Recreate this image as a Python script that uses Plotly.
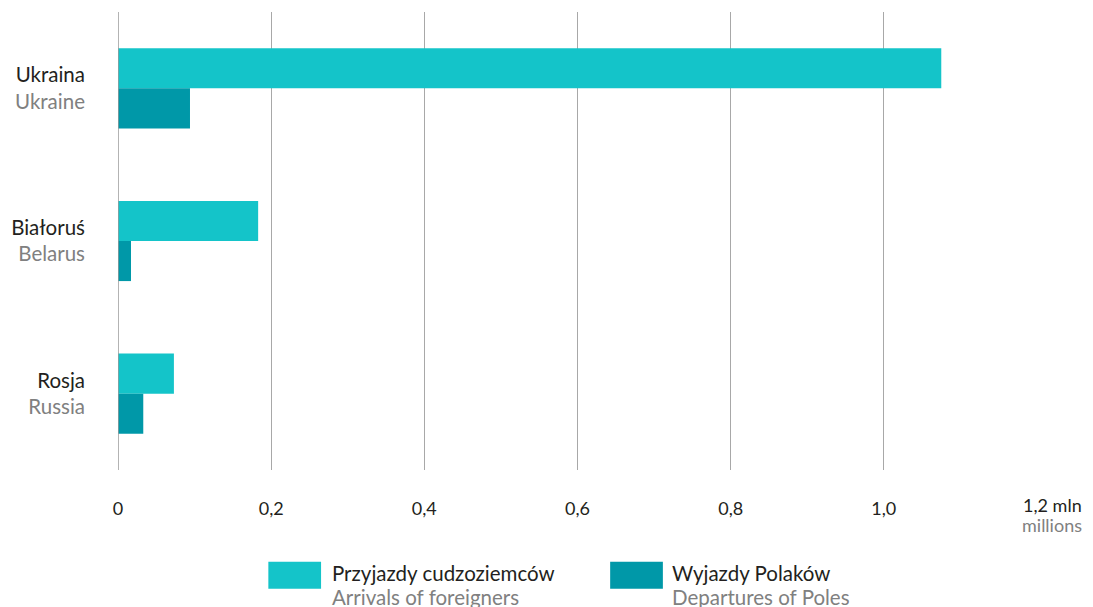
import plotly.graph_objects as go

categories_pl = ["Ukraina", "Białoruś", "Rosja"]
categories_en = ["Ukraine", "Belarus", "Russia"]
arrivals = [1.075, 0.183, 0.073]
departures = [0.094, 0.017, 0.033]
series_pl = ["Przyjazdy cudzoziemców", "Wyjazdy Polaków"]
series_en = ["Arrivals of foreigners", "Departures of Poles"]
colors = ["#14C4C9", "#0098A8"]
x_tickvals = [0, 0.2, 0.4, 0.6, 0.8, 1.0, 1.2]
x_ticktext = ["0", "0,2", "0,4", "0,6", "0,8", "1,0", "1,2 mln"]
x_unit = "millions"

FONT = "Lato"
DARK = "#231f20"
GRAY = "#808080"

fig = go.Figure()
for vals, name, col in zip([arrivals, departures], series_pl, colors):
    fig.add_trace(go.Bar(
        y=categories_pl, x=vals, orientation="h", name=name,
        marker=dict(color=col, line=dict(width=0)),
    ))

# page has an 8px body margin; figure sized to fit the window
OFF = 8
W, H = 1093 - OFF, 607 - OFF
L, T = 118 - OFF, 12 - OFF
PR, PB = 1036.7 - OFF, 470 - OFF
R, B = W - PR, H - PB
pw, ph = PR - L, PB - T

def px2x(px):
    return (px - OFF - L) / pw

def py2y(py):
    return (PB - (py - OFF)) / ph

ytext = [f"{p}<br><span style='color:{GRAY}'>{e}</span>" for p, e in zip(categories_pl, categories_en)]
xtext = x_ticktext[:-1] + [""]

fig.update_layout(
    width=W, height=H,
    margin=dict(l=L, r=R, t=T, b=B, autoexpand=False),
    paper_bgcolor="white", plot_bgcolor="white",
    barmode="group", bargap=0.475, bargroupgap=0,
    showlegend=False,
    font=dict(family=FONT, size=20, color=DARK),
    xaxis=dict(
        range=[0, 1.2], tickvals=x_tickvals, ticktext=xtext,
        showgrid=True, gridcolor="#a8a8a8", gridwidth=1,
        zeroline=False, showline=False, ticks="",
        ticklabelstandoff=26, tickfont=dict(size=18, color=DARK, family=FONT),
    ),
    yaxis=dict(
        tickvals=categories_pl, ticktext=ytext,
        autorange="reversed", showgrid=False, zeroline=False,
        showline=False, ticks="", ticklabelstandoff=32,
        tickfont=dict(size=20.5, color=DARK, family=FONT),
    ),
)

# zero line slightly darker
fig.add_shape(type="line", xref="x", yref="paper", x0=0, x1=0, y0=0, y1=1,
              line=dict(color="#9a9a9a", width=1.5))

# last tick label with unit, right-aligned
UF = 18
fig.add_annotation(xref="x", yref="paper", x=x_tickvals[-1], y=py2y(511 - 0.35 * UF),
                   xanchor="right", yanchor="middle", xshift=46, borderpad=0,
                   text=x_ticktext[-1], showarrow=False,
                   font=dict(size=UF, color=DARK, family=FONT))
fig.add_annotation(xref="x", yref="paper", x=x_tickvals[-1], y=py2y(531 - 0.35 * UF),
                   xanchor="right", yanchor="middle", xshift=46, borderpad=0,
                   text=x_unit, showarrow=False,
                   font=dict(size=UF, color=GRAY, family=FONT))

# custom legend
sw = [(268.3, 321), (610, 662.7)]
tx = [329.5, 670]
LF = 20.5
for i in range(2):
    fig.add_shape(type="rect", xref="paper", yref="paper",
                  x0=px2x(sw[i][0]), x1=px2x(sw[i][1]),
                  y0=py2y(588.7), y1=py2y(561.7),
                  fillcolor=colors[i], line=dict(width=0))
    fig.add_annotation(xref="paper", yref="paper", x=px2x(tx[i]), y=py2y(580 - 0.35 * LF),
                       xanchor="left", yanchor="middle", showarrow=False,
                       text=series_pl[i], font=dict(size=LF, color=DARK, family=FONT))
    fig.add_annotation(xref="paper", yref="paper", x=px2x(tx[i]), y=py2y(604 - 0.35 * LF),
                       xanchor="left", yanchor="middle", showarrow=False,
                       text=series_en[i], font=dict(size=LF, color=GRAY, family=FONT))

fig.write_html("out.html")
